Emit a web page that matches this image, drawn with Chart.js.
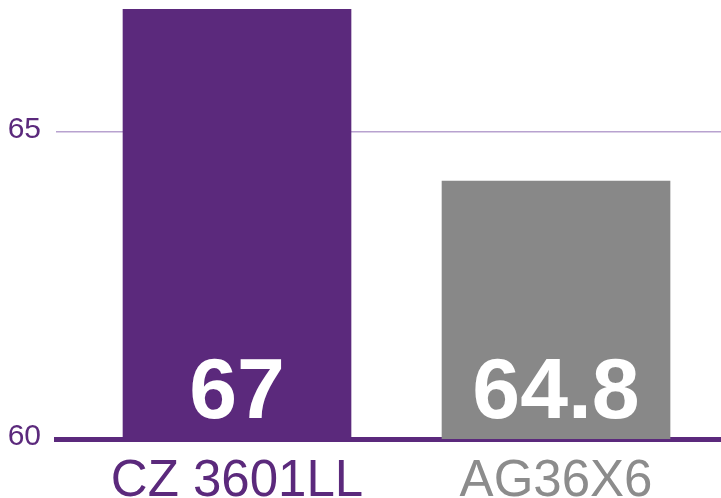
<!DOCTYPE html>
<html>
<head>
<meta charset="utf-8">
<script src="https://cdn.jsdelivr.net/npm/chart.js@4"></script>
<style>
  html, body { margin: 0; padding: 0; background: #fff; }
  canvas { display: block; }
</style>
</head>
<body>
<canvas id="chart" width="721" height="498"></canvas>
<script>
// data
const categories = ['CZ 3601LL', 'AG36X6'];
const barValues = [67, 64.2];          // bar heights as drawn
const valueLabels = ['67', '64.8'];    // numbers printed inside the bars
const yTicks = [60, 65];

const PURPLE = '#5b297c';
const GREY = '#888888';
const barColors = [PURPLE, GREY];
const labelColors = [PURPLE, '#8c8c8c'];
const FONT = '"Liberation Sans", Arial, sans-serif';

// white numbers near the bottom of each bar
const valueLabelPlugin = {
    id: 'valueLabels',
    afterDraw(chart) {
        const ctx = chart.ctx;
        const xs = chart.scales.x;
        const ys = chart.scales.y;
        const baseY = ys.getPixelForValue(ys.min);
        ctx.save();
        ctx.fillStyle = '#ffffff';
        ctx.font = 'bold 86px ' + FONT;
        ctx.textAlign = 'center';
        ctx.textBaseline = 'alphabetic';
        valueLabels.forEach((txt, i) => {
            ctx.fillText(txt, xs.getPixelForValue(i), baseY - 21);
        });
        ctx.restore();
    }
};

new Chart(document.getElementById('chart'), {
    type: 'bar',
    data: {
        datasets: [{
            data: categories.map((c, i) => ({ x: i, y: barValues[i] })),
            backgroundColor: barColors,
            borderWidth: 0,
            barThickness: 228
        }]
    },
    options: {
        responsive: false,
        animation: false,
        layout: { padding: { top: 9, left: 0, right: 0, bottom: 0 } },
        plugins: {
            legend: { display: false },
            tooltip: { enabled: false }
        },
        scales: {
            x: {
                type: 'linear',
                offset: false,
                min: -0.5674,
                max: 1.5172,
                z: 1,
                grid: { display: false, drawTicks: false },
                border: { display: true, color: PURPLE, width: 5 },
                afterBuildTicks: scale => {
                    scale.ticks = categories.map((c, i) => ({ value: i }));
                },
                afterFit: scale => {
                    scale.height = 59;
                    scale.paddingLeft = 0;
                    scale.paddingRight = 0;
                },
                ticks: {
                    autoSkip: false,
                    maxRotation: 0,
                    padding: 12,
                    font: { family: FONT, size: 51 },
                    color: ctx => labelColors[ctx.index],
                    callback: v => categories[v]
                }
            },
            y: {
                min: 60,
                max: 67,
                afterBuildTicks: scale => {
                    scale.ticks = yTicks.map(v => ({ value: v }));
                },
                afterFit: scale => {
                    scale.width = 56;
                    scale.paddingTop = 0;
                    scale.paddingBottom = 0;
                },
                grid: { color: '#b8a2cf', lineWidth: 1.5, drawTicks: false },
                border: { display: false },
                ticks: {
                    padding: 15,
                    labelOffset: -2,
                    font: { family: FONT, size: 30 },
                    color: PURPLE
                }
            }
        }
    },
    plugins: [valueLabelPlugin]
});
</script>
</body>
</html>
